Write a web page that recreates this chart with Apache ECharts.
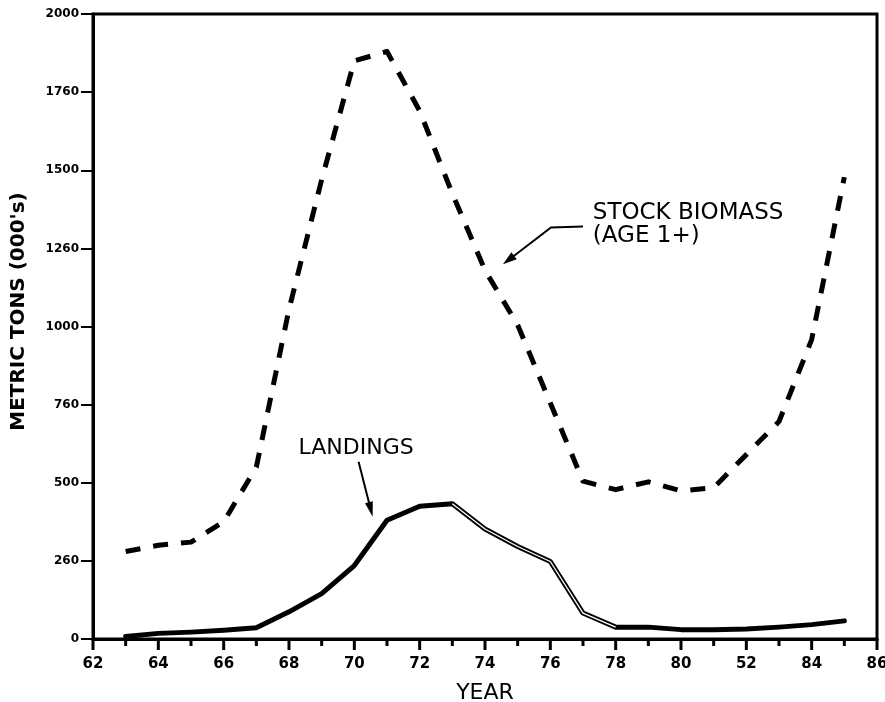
<!DOCTYPE html>
<html>
<head>
<meta charset="utf-8">
<script src="https://cdn.jsdelivr.net/npm/echarts@6/dist/echarts.min.js"></script>
<style>
html,body{margin:0;padding:0;background:#fff;}
#c{width:885px;height:702px;}
</style>
</head>
<body>
<div id="c"></div>
<script>
// ---- data ----
const years    = [63, 64, 65, 66, 67, 68, 69, 70, 71, 72, 73, 74, 75, 76, 77, 78, 79, 80, 81, 82, 83, 84, 85];
const biomass  = [280, 300, 310, 375, 550, 1055, 1470, 1850, 1880, 1690, 1425, 1180, 1005, 755, 505, 478, 503, 474, 484, 590, 696, 958, 1478];
const landings = [8, 18, 22, 28, 36, 87, 145, 235, 380, 425, 433, 352, 296, 248, 83, 38, 38, 30, 30, 32, 38, 46, 58];
// years where the landings line is drawn as a double (hollow) line
const hollowFrom = 73, hollowTo = 78;

const xTickValues = [62, 64, 66, 68, 70, 72, 74, 76, 78, 80, 82, 84, 86];
const xTickTexts  = ['62','64','66','68','70','72','74','76','78','80','52','84','86'];
const xMinorTickValues = [63, 65, 67, 69, 71, 73, 75, 77, 79, 81, 83, 85];
const yTickValues = [0, 250, 500, 750, 1000, 1250, 1500, 1750, 2000];
const yTickTexts  = ['0','260','500','760','1000','1260','1500','1760','2000'];

const xName = 'YEAR';
const yName = "METRIC TONS (000's)";
const biomassLabel = ['STOCK BIOMASS', '(AGE 1+)'];
const landingsLabel = 'LANDINGS';

// ---- build ----
const bioData = years.map((y, i) => [y, biomass[i]]);
const landData = years.map((y, i) => [y, landings[i]]);
const hollowData = landData.filter(d => d[0] >= hollowFrom && d[0] <= hollowTo);

const chart = echarts.init(document.getElementById('c'), null, {renderer: 'canvas'});
const FONT = '"DejaVu Sans", "Liberation Sans", sans-serif';

const option = {
  animation: false,
  backgroundColor: '#fff',
  grid: {left: 93, right: 8, top: 14, bottom: 63, containLabel: false, outerBoundsMode: 'none',
         show: true, borderColor: '#000', borderWidth: 3, backgroundColor: 'transparent'},
  xAxis: {
    type: 'value', min: 62, max: 86, interval: 2,
    name: xName, nameLocation: 'middle', nameGap: 43,
    nameTextStyle: {fontFamily: FONT, fontSize: 22, color: '#000'},
    axisLine: {show: true, onZero: false, lineStyle: {color: '#000', width: 3}},
    axisTick: {show: false},
    splitLine: {show: false},
    axisLabel: {
      margin: 18, color: '#000', fontFamily: FONT, fontWeight: 'bold', fontSize: 15,
      formatter: v => { const k = xTickValues.indexOf(v); return k >= 0 ? xTickTexts[k] : ''; }
    }
  },
  yAxis: {
    type: 'value', min: 0, max: 2000, interval: 250,
    name: yName, nameLocation: 'middle', nameGap: 64, nameRotate: 90,
    nameTextStyle: {fontFamily: FONT, fontSize: 20, fontWeight: 'bold', color: '#000', padding: [0, 0, 0, 30]},
    axisLine: {show: true, onZero: false, lineStyle: {color: '#000', width: 3}},
    axisTick: {show: true, length: 12, lineStyle: {color: '#000', width: 2}},
    splitLine: {show: false},
    axisLabel: {
      margin: 14, color: '#000', fontFamily: FONT, fontWeight: 'bold', fontSize: 12,
      formatter: v => { const k = yTickValues.indexOf(v); return k >= 0 ? yTickTexts[k] : ''; }
    }
  },
  series: [
    {
      type: 'line', data: bioData, symbol: 'none', z: 3,
      lineStyle: {color: '#000', width: 5, type: [15, 13], cap: 'butt', join: 'round'}
    },
    {
      type: 'line', data: landData, symbol: 'none', z: 4,
      lineStyle: {color: '#000', width: 5, join: 'round', cap: 'round'}
    },
    {
      type: 'line', data: hollowData, symbol: 'none', z: 5,
      lineStyle: {color: '#fff', width: 1.3, join: 'round'}
    }
  ]
};
chart.setOption(option);

function px(x, y) { return chart.convertToPixel({gridIndex: 0}, [x, y]); }

function arrow(points, headLen, headW) {
  const els = [];
  const n = points.length;
  const tip = points[n - 1], prev = points[n - 2];
  const dx = tip[0] - prev[0], dy = tip[1] - prev[1];
  const L = Math.hypot(dx, dy), ux = dx / L, uy = dy / L;
  const bx = tip[0] - ux * headLen, by = tip[1] - uy * headLen;
  const linePts = points.slice(0, n - 1).concat([[bx + ux * 2, by + uy * 2]]);
  els.push({type: 'polyline', shape: {points: linePts}, style: {stroke: '#000', lineWidth: 2, fill: null}, z: 10});
  els.push({type: 'polygon', shape: {points: [tip, [bx - uy * headW / 2, by + ux * headW / 2], [bx + uy * headW / 2, by - ux * headW / 2]]},
            style: {fill: '#000'}, z: 10});
  return els;
}

// annotation anchor points, in data coordinates
const bioArrow = [[77.0, 1320], [76.02, 1317], [74.55, 1199]];
const landArrow = [[70.13, 567], [70.56, 391]];
const bioText = [77.3, 1400];
const landText = [68.29, 647];

const bt = px(bioText[0], bioText[1]);
const lt = px(landText[0], landText[1]);
const g = [];
g.push({type: 'text', left: bt[0], top: bt[1], z: 10,
  style: {text: biomassLabel.join('\n'), fontFamily: FONT, fontSize: 23, lineHeight: 23, fill: '#000'}});
g.push({type: 'text', left: lt[0], top: lt[1], z: 10,
  style: {text: landingsLabel, fontFamily: FONT, fontSize: 22, fill: '#000'}});
arrow(bioArrow.map(p => px(p[0], p[1])), 14, 9).forEach(e => g.push(e));
arrow(landArrow.map(p => px(p[0], p[1])), 15, 8).forEach(e => g.push(e));

// x-axis ticks (major at labelled years, minor at the others), placed through the axis scale
function xTick(v, len) {
  const p = px(v, 0);
  g.push({type: 'rect', shape: {x: p[0] - 1.5, y: p[1], width: 3, height: len},
          style: {fill: '#000'}, z: 10});
}
xTickValues.forEach(v => xTick(v, 11));
xMinorTickValues.forEach(v => xTick(v, 7));
chart.setOption({graphic: g});
</script>
</body>
</html>
